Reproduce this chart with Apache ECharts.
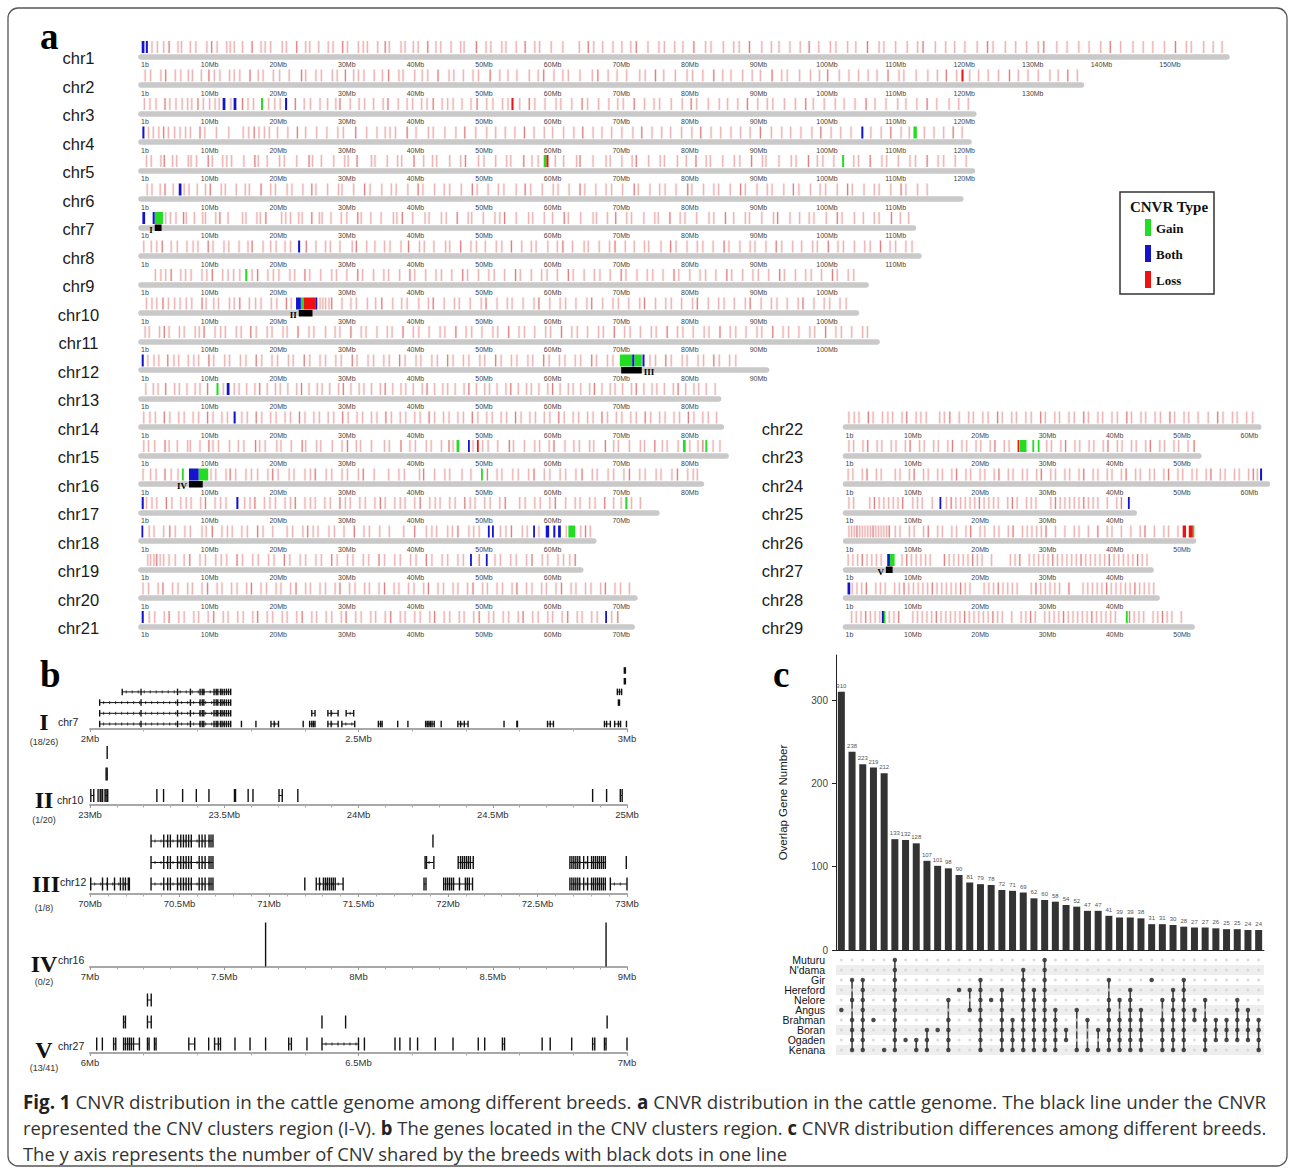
<!DOCTYPE html>
<html>
<head>
<meta charset="utf-8">
<title>CNVR distribution in the cattle genome</title>
<script src="https://cdn.jsdelivr.net/npm/echarts@6.0.0/dist/echarts.min.js"></script>
<style>
  html, body { margin: 0; padding: 0; background: #fff; }
  #main { width: 1295px; height: 1174px; }
</style>
</head>
<body>
<div id="main"></div>
<script>
// ---------- panel a : CNVR along the chromosomes (positions in Mb) ----------
const chrNames = ['chr1','chr2','chr3','chr4','chr5','chr6','chr7','chr8','chr9','chr10','chr11','chr12','chr13','chr14','chr15',
  'chr16','chr17','chr18','chr19','chr20','chr21','chr22','chr23','chr24','chr25','chr26','chr27','chr28','chr29']
const chrLengthsMb = [158.3,137.1,121.4,120.7,121.2,119.5,112.6,113.4,105.7,104.3,107.3,91.2,84.2,84.6,85.3,
  81.7,75.2,66.0,64.1,72.0,71.6,61.4,52.5,62.7,42.9,51.7,45.4,46.3,51.5]

// faint loss CNVR lines, one list per chromosome
const lossMb = [
  [1.6,2.4,3.3,4.1,5.4,5.9,7.2,8.0,9.6,10.3,11.1,12.5,13.0,13.6,14.8,16.2,17.5,18.1,18.9,20.6,21.2,22.7,24.0,24.6,25.9,27.3,28.0,29.4,30.1,31.7,32.4,33.0,34.5,35.6,36.2,37.9,38.5,39.7,40.4,41.8,43.0,43.7,45.2,46.6,47.1,48.9,50.3,51.0,52.6,53.2,54.7,56.0,57.4,58.1,59.8,61.5,63.9,65.2,66.0,67.3,68.8,70.1,71.4,72.2,73.9,75.5,76.3,77.8,79.0,80.6,82.3,83.1,84.9,86.4,87.2,88.7,90.5,91.9,93.0,94.6,96.1,97.4,98.8,100.5,101.3,103.0,104.2,105.9,107.6,108.3,110.0,111.7,113.2,114.0,115.8,117.3,118.6,120.1,121.9,123.4,124.2,126.0,127.5,129.1,130.8,131.6,133.5,135.0,136.7,138.2,139.9,141.3,142.8,144.6,146.1,147.5,149.2,150.8,152.4,153.1,154.9,156.3,157.6],
  [0.6,1.4,2.9,3.6,5.0,5.8,6.9,7.5,8.8,9.9,10.7,11.5,12.9,13.6,14.4,15.9,17.1,17.8,19.3,20.2,21.6,23.4,24.0,25.5,26.3,27.9,28.6,29.8,31.0,31.7,32.5,34.0,35.2,36.1,37.6,38.2,39.9,41.0,41.8,43.3,44.9,45.6,47.0,48.4,49.2,50.9,52.3,53.5,54.8,56.6,57.9,58.7,60.2,61.5,62.3,64.0,65.8,66.6,68.1,69.4,70.8,72.7,73.5,75.0,76.2,77.9,79.6,80.4,81.9,83.5,84.8,86.0,87.7,89.1,90.3,92.0,93.4,94.2,96.0,97.6,98.9,100.1,101.8,103.2,104.6,106.0,107.3,108.9,110.5,111.2,113.0,114.7,116.1,117.4,118.9,120.8,122.1,123.5,125.0,126.6,127.9,129.3,130.8,132.5,133.7,135.1,136.5],
  [0.5,1.3,2.2,3.5,4.2,5.1,6.0,6.8,7.4,8.3,9.1,10.0,10.8,11.4,13.1,14.8,15.6,16.4,18.6,19.5,20.3,22.5,23.8,24.7,26.1,27.2,28.4,29.0,30.5,31.8,32.6,33.9,35.3,36.0,37.5,38.8,39.6,40.9,41.7,42.6,43.9,44.7,45.5,46.8,48.1,49.0,50.4,51.3,52.7,53.5,55.2,56.6,57.4,58.9,60.5,61.2,62.8,64.3,65.1,66.7,68.2,69.5,70.3,71.9,73.4,74.8,75.6,77.3,78.9,80.2,81.0,82.7,84.3,85.5,87.0,88.4,89.9,91.3,92.1,93.8,95.4,96.9,98.0,99.6,101.2,102.5,104.1,105.7,107.0,108.6,110.3,111.5,113.1,114.6,116.0,117.8,119.2,120.6],
  [1.1,1.8,2.6,3.3,4.0,4.9,5.7,6.5,7.2,8.6,9.3,11.0,12.8,14.9,15.7,16.5,17.2,18.0,18.7,19.9,21.4,22.8,24.0,25.6,27.1,28.7,29.5,31.3,32.9,34.4,35.6,36.3,37.1,38.8,40.1,41.9,42.6,44.3,45.9,47.2,48.8,50.4,51.7,53.1,54.5,55.9,57.3,58.8,60.0,61.6,63.1,64.4,65.9,67.2,68.6,70.1,71.7,73.0,74.5,75.9,77.2,78.8,80.3,81.6,83.1,84.5,86.0,87.4,88.8,90.3,91.9,93.4,94.7,96.2,97.8,99.1,100.6,102.0,103.5,106.4,107.9,109.3,110.8,112.0,114.2,115.6,117.0,118.4,119.7],
  [0.8,1.5,2.9,3.4,4.6,5.2,6.9,7.3,8.1,9.8,10.4,11.9,12.5,13.2,15.0,16.6,17.1,18.4,20.2,20.9,22.7,24.5,25.0,26.3,28.1,29.7,30.2,31.5,33.6,34.1,35.9,37.4,38.0,39.8,41.2,42.5,43.1,45.0,46.6,47.3,49.2,50.0,51.7,53.3,53.9,55.8,57.0,57.9,60.4,61.6,63.5,64.0,65.9,67.8,68.4,70.1,71.6,72.2,74.0,75.7,76.3,78.2,79.5,80.9,82.4,83.0,84.8,86.5,87.3,89.0,90.6,91.1,93.0,94.8,95.5,97.3,98.6,99.4,101.0,103.9,104.6,106.3,108.0,108.7,110.4,112.1,112.9,114.6,116.2,117.0,118.7,120.3],
  [0.9,1.6,2.8,3.5,4.7,6.3,7.0,8.2,9.4,10.1,11.7,12.3,13.9,15.2,15.8,17.5,18.9,19.6,21.3,22.0,23.6,24.9,25.5,27.2,28.8,29.3,31.0,32.6,33.4,35.1,36.5,37.2,38.9,40.4,41.1,42.8,44.2,45.0,46.7,48.3,49.0,50.6,52.1,52.9,54.7,56.0,56.8,58.5,60.1,60.8,62.4,64.0,64.7,66.3,67.8,68.6,70.2,71.9,72.5,74.2,75.6,76.4,78.0,79.7,80.3,82.0,83.5,84.2,85.9,87.4,88.1,89.8,91.3,92.0,93.7,95.1,95.9,97.6,99.0,99.8,101.5,103.0,103.7,105.4,106.9,107.6,109.3,110.8,111.5,113.2,114.6],
  [3.6,4.3,5.1,6.2,6.6,7.8,9.0,9.4,10.9,11.5,12.7,14.8,15.3,16.9,17.4,18.2,20.5,21.1,21.8,23.0,23.5,24.9,26.0,26.4,27.7,29.2,30.0,31.6,32.1,33.5,35.0,36.8,37.3,38.1,39.6,41.4,42.0,43.8,44.5,46.1,47.7,48.2,49.9,51.6,52.3,53.0,54.7,56.5,57.1,58.8,60.0,61.7,62.3,64.1,65.9,66.4,68.0,69.2,70.8,71.5,73.3,74.9,75.4,77.1,78.6,79.3,81.0,82.8,83.5,85.2,86.4,88.1,88.7,90.5,92.2,92.8,94.6,96.0,97.4,98.1,99.9,101.5,102.2,104.0,105.3,106.9,107.6,109.4,110.7,111.9],
  [0.4,1.5,2.3,3.1,4.4,5.3,6.7,7.6,8.3,9.8,10.5,12.1,12.8,14.3,15.6,16.2,17.8,18.9,19.7,21.0,21.8,24.1,25.5,26.9,27.6,29.0,30.8,31.4,32.9,34.1,35.5,36.3,37.9,39.0,40.6,41.3,42.7,44.4,45.0,46.6,48.1,48.9,50.2,51.8,52.6,54.0,55.5,56.9,57.6,59.3,60.7,61.5,62.9,64.6,65.2,66.8,68.3,69.1,70.6,71.9,73.4,74.0,75.8,77.2,78.0,79.6,81.1,81.9,83.4,85.0,85.7,87.3,88.8,89.5,91.1,92.6,93.4,95.0,96.3,97.9,98.6,100.2,101.6,102.4,104.0,105.5,106.3,107.8,109.2,110.0,111.5,112.4],
  [2.1,2.9,3.6,4.4,5.8,6.5,7.3,8.9,9.6,10.4,11.9,12.7,13.5,14.4,16.2,17.0,18.5,19.3,20.1,21.7,22.4,23.9,24.6,26.2,27.8,28.5,30.0,31.6,32.3,33.9,35.4,36.1,37.7,39.2,39.9,41.5,43.0,43.8,45.3,46.9,47.6,49.2,50.7,51.5,53.0,54.6,55.3,56.9,58.4,59.2,60.7,62.3,63.0,64.6,66.1,66.9,68.4,70.0,70.7,72.3,73.8,74.6,76.1,77.7,78.4,80.0,81.5,82.3,83.8,85.4,86.1,87.7,89.2,90.0,91.5,93.1,93.8,95.4,96.9,97.7,99.2,100.8,101.5,103.1,103.9],
  [0.8,1.6,2.3,3.2,4.0,4.9,5.7,6.6,7.4,8.9,9.5,10.6,11.3,12.9,13.6,14.4,15.8,16.7,17.5,19.0,19.8,21.2,21.9,26.1,26.5,26.9,27.4,27.8,29.3,30.6,31.4,33.0,34.2,35.1,36.7,38.0,38.8,40.5,41.9,42.6,44.2,45.7,46.4,48.0,49.6,50.3,51.9,53.4,54.1,55.7,57.3,58.0,59.6,61.1,61.9,63.4,65.0,65.7,67.3,68.8,69.6,71.1,72.7,73.4,75.0,76.5,77.3,78.8,80.4,81.1,82.7,84.2,85.0,86.5,88.1,88.8,90.4,91.9,92.7,94.2,95.8,96.5,98.1,99.6,100.4,101.9,102.8],
  [0.6,1.2,2.7,3.4,4.1,5.6,6.3,7.9,8.5,9.2,10.8,11.6,12.3,13.9,14.6,16.0,16.8,18.4,19.1,20.7,21.3,22.9,24.5,25.2,26.9,28.3,29.0,30.6,32.1,32.8,34.4,35.9,36.6,38.2,39.7,40.5,42.0,43.6,44.3,45.9,47.4,48.2,49.7,51.3,52.0,53.6,55.1,55.9,57.4,59.0,59.7,61.3,62.8,63.6,65.1,66.7,67.4,69.0,70.5,71.3,72.8,74.4,75.1,76.7,78.2,79.0,80.5,82.1,82.8,84.4,85.9,86.7,88.2,89.8,90.5,92.1,93.6,94.4,95.9,97.5,98.2,99.8,101.3,102.1,103.6,105.2,105.9],
  [1.0,1.9,2.6,3.9,4.8,5.5,6.9,7.7,8.4,9.9,10.6,12.2,12.9,14.5,15.3,16.8,17.6,19.1,19.9,21.5,22.2,23.8,24.6,26.1,26.9,28.4,29.2,30.8,31.5,33.1,33.9,35.4,36.2,37.7,38.5,40.1,40.8,42.4,43.2,44.7,45.5,47.0,47.8,49.4,50.1,51.7,52.5,54.0,54.8,56.4,57.1,58.7,59.5,61.0,61.8,63.3,64.1,65.7,66.4,68.0,68.8,74.2,75.0,76.5,77.3,78.9,79.6,81.2,82.0,83.5,84.3,85.8,86.7],
  [0.7,1.8,2.5,3.6,4.9,5.6,6.7,7.9,8.6,9.7,12.0,13.6,14.3,15.4,16.6,17.3,18.4,19.6,20.3,21.4,22.7,23.4,24.5,25.7,26.4,27.5,28.8,29.5,30.6,31.8,32.5,33.6,34.9,35.6,36.7,37.9,38.6,39.7,41.0,41.7,42.8,44.0,44.7,45.8,47.1,47.8,48.9,50.1,50.8,51.9,53.2,53.9,55.0,56.2,56.9,58.0,59.3,60.0,61.1,62.3,63.0,64.1,65.4,66.1,67.2,68.4,69.1,70.2,71.5,72.2,73.3,74.5,75.2,76.3,77.6,78.3,79.4,80.6,81.3,82.4,83.7],
  [0.4,1.3,2.1,3.4,4.2,5.5,6.3,7.6,8.4,9.7,10.5,11.8,12.6,14.7,15.5,16.8,17.6,18.9,19.7,21.0,21.8,23.1,23.9,25.2,26.0,27.3,28.1,29.4,30.2,31.5,32.3,33.6,34.4,35.7,36.5,37.8,38.6,39.9,40.7,42.0,42.8,44.1,44.9,46.2,47.0,48.3,49.1,50.4,51.2,52.5,53.3,54.6,55.4,56.7,57.5,58.8,59.6,60.9,61.7,63.0,63.8,65.1,65.9,67.2,68.0,69.3,70.1,71.4,72.2,73.5,74.3,75.6,76.4,77.7,78.5,79.8,80.6,81.9,82.7,83.9],
  [0.4,1.1,2.0,3.5,4.1,5.3,6.8,7.2,8.6,9.9,10.5,11.3,12.9,14.2,15.0,16.7,17.3,18.1,19.8,20.4,21.9,23.5,24.0,25.6,26.2,27.9,29.3,30.1,31.4,32.0,33.6,35.5,36.2,37.9,39.2,40.0,41.6,42.3,43.8,44.9,45.5,48.4,49.8,50.6,52.0,53.7,54.3,55.9,57.4,58.1,59.5,60.2,61.8,63.1,63.9,65.4,66.0,67.7,68.9,69.6,71.2,72.8,73.4,74.9,76.0,76.7,78.3,80.0,81.2,81.9,83.4,84.4],
  [0.3,1.4,2.2,3.5,4.4,5.4,10.2,10.9,12.4,13.0,13.8,15.3,16.1,17.0,18.5,19.2,20.0,21.6,22.3,23.9,24.7,25.4,27.0,27.8,29.3,30.1,31.7,32.4,34.0,36.1,37.6,38.4,40.6,41.2,42.8,44.3,45.0,46.8,48.1,50.5,51.9,52.6,54.2,55.0,56.5,57.3,58.8,59.6,61.1,61.9,63.4,64.3,65.8,66.5,68.1,68.9,70.4,71.2,72.7,73.5,75.1,75.8,77.4,78.2,79.7,80.5,81.1],
  [0.8,1.6,2.3,3.7,4.5,5.8,6.6,7.3,8.7,9.4,10.8,11.6,12.4,15.1,15.9,16.6,18.0,18.8,19.6,21.0,21.8,22.5,23.9,24.7,25.4,26.8,27.6,29.0,29.8,30.5,31.9,32.7,34.1,34.9,35.6,37.0,37.8,38.5,39.9,40.7,42.1,42.9,43.6,45.0,45.8,47.2,48.0,48.7,50.1,50.9,52.3,53.1,55.2,56.0,57.4,58.2,59.6,60.4,61.9,63.3,64.0,65.4,66.2,67.6,68.9,70.0,71.5,72.8],
  [1.2,1.9,3.3,4.2,5.0,6.4,7.2,8.9,9.5,10.4,11.8,12.6,13.3,14.7,15.5,17.0,17.8,19.2,21.3,22.1,23.6,24.3,25.1,25.8,27.4,28.2,29.6,31.1,32.5,33.3,34.8,36.2,38.3,39.9,41.6,42.4,43.1,44.7,45.4,46.2,47.8,48.5,49.3,52.4,53.2,54.0,55.6,56.3,58.0,62.0,64.1,64.8,65.5],
  [1.0,1.4,1.9,2.3,2.8,3.3,4.1,5.0,6.3,7.1,8.6,9.4,10.9,11.7,12.5,14.0,14.8,16.3,17.1,18.6,19.4,20.9,21.7,23.2,24.0,25.5,26.3,27.8,28.6,30.1,30.9,32.4,33.2,34.7,35.5,37.0,37.8,39.3,40.1,41.6,42.4,43.9,44.7,46.2,47.0,49.3,51.6,52.4,53.9,54.7,56.2,57.0,58.5,59.3,60.8,61.6,62.5,63.3],
  [0.3,1.1,2.5,3.2,4.6,5.4,6.8,7.5,8.9,9.7,11.1,11.8,13.2,14.0,15.4,16.1,17.5,18.3,19.7,20.4,21.8,22.6,24.0,24.7,26.1,26.9,28.3,29.0,30.4,31.2,32.6,33.3,34.7,35.5,36.9,37.6,39.0,39.8,41.2,41.9,43.3,44.1,45.5,46.2,47.6,48.4,49.8,50.5,51.9,52.7,54.1,54.8,56.2,57.0,58.4,59.1,60.5,61.3,62.7,63.4,64.8,65.6,67.0,67.7,69.1,69.9,71.2],
  [1.2,2.0,3.4,4.1,5.5,6.3,7.7,8.4,9.8,10.6,12.0,12.7,14.1,14.9,16.3,17.0,18.4,19.2,20.6,21.3,22.7,23.5,24.9,25.6,27.0,27.8,29.2,29.9,31.3,32.1,33.5,34.2,35.6,36.4,37.8,38.5,39.9,40.7,42.1,42.8,44.2,45.0,46.4,47.1,48.5,49.3,50.7,51.4,52.8,53.6,55.0,55.7,57.1,57.9,59.3,60.0,61.4,62.2,63.6,64.3,65.7,66.5,68.6,69.5],
  [0.5,1.3,2.0,3.4,4.1,5.5,6.3,7.0,8.4,9.1,10.5,11.2,12.0,14.0,14.7,15.5,16.9,18.3,19.0,20.4,21.2,22.6,23.3,24.7,25.4,26.8,27.6,29.0,29.7,31.1,31.8,33.2,34.0,35.4,36.1,37.5,38.2,39.6,40.4,41.8,42.5,43.9,44.6,46.0,46.8,48.2,48.9,50.3,51.0,52.4,53.9,55.3,56.1,57.5,58.2,59.6,60.5],
  [0.5,1.2,2.6,3.3,4.7,5.4,6.8,7.5,8.9,9.6,11.0,11.7,13.1,13.8,15.2,15.9,17.3,18.0,19.4,20.1,21.5,22.2,23.6,24.3,29.9,30.6,32.0,32.7,34.1,34.8,36.2,36.9,38.3,39.0,40.4,41.1,42.5,43.2,44.6,45.3,46.7,47.4,48.8,49.5,50.9,51.8],
  [0.4,1.1,2.5,3.2,4.6,5.3,7.4,8.1,9.5,10.2,11.6,12.3,13.7,14.4,15.8,16.5,17.9,18.6,20.0,20.7,22.1,22.8,24.2,24.9,26.3,27.0,28.4,29.1,30.5,31.2,32.6,33.3,34.7,35.4,36.8,37.5,38.9,39.6,41.0,41.7,43.1,43.8,45.2,45.9,47.3,48.0,49.4,50.1,51.5,52.2,53.6,54.3,55.7,56.4,57.8,58.5,59.9,60.6,61.2],
  [0.5,1.2,3.6,4.3,5.0,5.7,6.4,7.1,7.8,8.5,10.0,10.7,11.4,12.9,15.0,15.7,16.4,17.1,17.8,18.5,19.2,19.9,20.6,21.3,22.0,22.7,24.1,24.8,25.5,26.9,27.6,28.3,30.5,31.2,31.9,32.6,33.3,34.0,34.7,35.4,36.1,36.8,37.5,38.9,40.3,41.0],
  [0.5,0.9,1.3,1.7,2.1,2.5,2.9,3.3,3.7,4.1,4.5,4.9,5.3,5.7,6.1,6.5,7.4,8.1,9.5,10.2,11.6,12.3,13.7,14.4,15.8,16.5,17.9,18.6,20.0,20.7,22.1,22.8,24.2,24.9,26.3,27.0,27.7,28.4,29.1,29.8,31.2,32.6,34.0,34.7,36.1,37.5,38.9,39.6,41.0,42.4,43.8,44.5,45.9,47.3,48.0,49.4],
  [0.4,1.1,1.8,2.5,3.2,3.9,4.6,5.3,8.4,9.1,9.8,10.5,11.2,11.9,12.6,14.7,15.4,16.1,16.8,17.5,18.2,18.9,19.6,20.3,21.7,24.5,25.2,25.9,27.3,28.0,28.7,29.4,30.1,30.8,31.5,32.2,32.9,33.6,34.3,35.0,35.7,36.4,37.1,37.8,38.5,39.2,39.9,40.6,41.3,42.0,42.7,43.4,44.1,44.8],
  [1.0,1.7,2.4,3.1,4.5,5.2,5.9,7.3,8.0,8.7,9.4,10.1,10.8,11.5,12.2,12.9,13.6,14.3,15.0,15.7,16.4,17.1,17.8,18.5,20.6,21.3,22.0,22.7,23.4,24.1,24.8,25.5,27.6,28.3,29.0,29.7,30.4,31.1,31.8,33.2,35.3,36.0,36.7,37.4,38.1,38.8,39.5,40.2,40.9,41.6,42.3,43.0,43.7,44.4,45.1,45.8],
  [0.9,1.6,2.3,3.0,3.7,4.4,5.1,6.5,7.2,7.9,10.0,10.7,11.4,12.1,12.8,13.5,14.2,14.9,15.6,16.3,17.0,17.7,18.4,19.1,19.8,20.5,21.2,21.9,22.6,23.3,24.7,26.1,26.8,27.5,28.2,29.6,30.3,31.0,31.7,32.4,33.1,33.8,34.5,35.2,35.9,36.6,37.3,38.0,38.7,39.4,40.1,42.2,42.9,43.6,44.3,45.7,46.4,47.1,47.8,48.5,49.9]
]

// solid CNVR blocks: [chromosome, start Mb, end Mb]
const gainRegions = [[3,17.5,17.8],[4,112.6,113.1],[5,58.7,59.1],[5,102.2,102.5],[7,2.0,3.2],[9,15.2,15.5],[10,23.3,23.7],
  [12,69.8,71.6],[12,71.9,73.0],[13,11.0,11.3],[15,46.0,46.4],[15,79.0,79.4],[15,82.3,82.5],[16,6.0,6.2],[16,8.4,9.8],
  [16,49.6,49.8],[17,70.6,70.9],[18,62.3,63.3],[23,25.9,26.9],[23,27.8,28.0],[23,28.6,28.8],[26,51.6,51.8],[27,6.6,7.3],
  [29,5.7,5.9],[29,41.7,41.9]]
const bothRegions = [[1,0.1,0.5],[1,0.7,1.0],[3,11.9,12.3],[3,13.5,13.9],[3,21.0,21.3],[4,0.2,0.5],[4,105.0,105.3],[6,5.5,5.9],
  [7,0.2,0.6],[7,1.7,2.0],[8,22.9,23.2],[10,22.6,23.3],[10,25.4,25.7],[12,0.1,0.4],[12,71.6,71.9],[12,73.1,73.4],[13,12.5,12.9],
  [14,13.5,13.8],[15,47.7,47.9],[16,7.0,8.4],[17,0.1,0.4],[17,13.9,14.2],[18,0.1,0.3],[18,50.6,50.8],[18,51.2,51.4],
  [18,57.2,57.4],[18,59.0,59.5],[18,60.1,60.4],[18,60.8,61.2],[19,48.0,48.2],[19,50.3,50.5],[21,0.1,0.4],[21,67.7,67.9],
  [24,61.6,61.9],[25,14.0,14.2],[25,42.0,42.2],[27,6.2,6.6],[28,0.3,0.7],[29,5.4,5.7]]
const lossRegions = [[2,119.6,119.9],[3,54.0,54.3],[5,59.1,59.4],[10,23.7,25.4],[15,49.0,49.2],[23,25.6,25.8],[26,50.1,50.6],[26,51.0,51.6]]
const clusterRegions = [[7,2,3,'I'],[10,23,25,'II'],[12,70,73,'III'],[16,7,9,'IV'],[27,6,7,'V']]

// ---------- panel b : genes in the cluster regions ----------
// gene: [lane, start Mb, end Mb, ...inner exon positions]
const trackNames = ['I','II','III','IV','V']
const trackChrs = ['chr7','chr10','chr12','chr16','chr27']
const trackRatios = ['(18/26)','(1/20)','(1/8)','(0/2)','(13/41)']
const trackRanges = [[2,3],[23,25],[70,73],[7,9],[6,7]]
const trackIGenes = [
  [0,2.018,2.262,2.095,2.163,2.187,2.205,2.209,2.212,2.231,2.235,2.238,2.243,2.246,2.250,2.254,2.258],
  [1,2.018,2.262,2.095,2.163,2.187,2.205,2.209,2.212,2.231,2.235,2.238,2.243,2.246,2.250,2.254,2.258],
  [2,2.018,2.262,2.095,2.163,2.187,2.205,2.209,2.212,2.231,2.235,2.238,2.243,2.246,2.250,2.254,2.258],
  [3,2.060,2.262,2.095,2.163,2.187,2.205,2.209,2.212,2.231,2.235,2.238,2.243,2.246,2.250,2.254,2.258],
  [0,2.282,2.282],[0,2.309,2.309],[0,2.337,2.351,2.343],[0,2.397,2.397],[0,2.409,2.419,2.413,2.416],[0,2.443,2.462,2.449],
  [0,2.469,2.493],[0,2.537,2.544,2.541],[0,2.573,2.573],[0,2.592,2.592],[0,2.625,2.641,2.628,2.631,2.634,2.637],[0,2.654,2.654],
  [0,2.685,2.704,2.690,2.697],[0,2.771,2.771],[0,2.795,2.796],[0,2.852,2.863,2.857],[0,2.958,2.969,2.962],[0,2.977,2.988,2.984],
  [0,2.999,2.999],[1,2.413,2.419],[1,2.443,2.462,2.449],[1,2.477,2.491],[2,2.984,2.986],[3,2.982,2.990,2.986],[4,2.995,2.997],[5,2.995,2.997]
]
const trackIIGenes = [
  [0,23.003,23.014],[0,23.030,23.030],[0,23.038,23.041],[0,23.047,23.047],[0,23.056,23.066,23.060],[0,23.249,23.249],
  [0,23.274,23.274],[0,23.345,23.345],[0,23.396,23.396],[0,23.443,23.443],[0,23.538,23.542],[0,23.589,23.589],[0,23.607,23.607],
  [0,23.704,23.716],[0,23.774,23.774],[0,24.872,24.872],[0,24.924,24.924],[0,24.975,24.982],[1,23.060,23.064],[2,23.064,23.064]
]
const trackIIIGenes = [
  [0,70.004,70.220,70.070,70.097,70.137,70.170,70.185,70.198,70.214],
  [0,70.341,70.687,70.412,70.434,70.449,70.489,70.507,70.522,70.537,70.551,70.566,70.610,70.626,70.643,70.665,70.676],
  [1,70.341,70.687,70.412,70.434,70.449,70.489,70.507,70.522,70.537,70.551,70.566,70.610,70.626,70.643,70.665,70.676],
  [2,70.341,70.687,70.412,70.434,70.449,70.489,70.507,70.522,70.537,70.551,70.566,70.610,70.626,70.643,70.665,70.676],
  [0,71.200,71.200],[0,71.264,71.414,71.282,71.304,71.315,71.326,71.337,71.348,71.359,71.370],[0,71.866,71.877],
  [0,71.976,72.137,71.987,71.998,72.009,72.020,72.031,72.064,72.097,72.108,72.119],
  [0,72.681,72.879,72.692,72.703,72.714,72.725,72.736,72.758,72.780,72.802,72.813,72.824,72.835,72.846,72.857,72.868],
  [0,72.907,73.000],[1,71.872,71.921,71.880],[1,72.057,72.141,72.070,72.081,72.092,72.103,72.114,72.125],
  [1,72.681,72.879,72.692,72.703,72.714,72.725,72.736,72.758,72.780,72.802,72.813,72.824,72.835,72.846,72.857,72.868],
  [1,72.996,72.996],[2,71.916,71.916]
]
const trackIVGenes = [[0,7.654,7.654],[0,8.922,8.922]]
const trackVGenes = [
  [0,6.0125,6.0125],[0,6.023,6.023],[0,6.044,6.048],[0,6.0625,6.092,6.066,6.070,6.0735,6.077,6.081],[0,6.107,6.110],[0,6.120,6.123],
  [0,6.184,6.195],[0,6.221,6.221],[0,6.232,6.243,6.239],[0,6.270,6.270],[0,6.298,6.298],[0,6.327,6.327],[0,6.370,6.375],
  [0,6.404,6.404],[0,6.432,6.500],[0,6.511,6.511],[0,6.568,6.568],[0,6.577,6.577],[0,6.596,6.596],[0,6.610,6.610],[0,6.643,6.643],
  [0,6.676,6.676],[0,6.723,6.723],[0,6.735,6.735],[0,6.768,6.772],[0,6.842,6.842],[0,6.857,6.857],[0,6.897,6.897],[0,6.936,6.940],
  [0,6.958,6.961],[0,7.000,7.000],[1,6.0625,6.066],[1,6.107,6.114],[1,6.432,6.432],[1,6.476,6.476],[1,6.963,6.963],[2,6.107,6.114]
]
const trackGenes = [trackIGenes, trackIIGenes, trackIIIGenes, trackIVGenes, trackVGenes]

// ---------- panel c : breed intersections ----------
const breeds = ['Muturu', "N'dama", 'Gir', 'Hereford', 'Nelore', 'Angus', 'Brahman', 'Boran', 'Ogaden', 'Kenana']
const upsetValues = [310,238,223,219,212,133,132,128,107,101,98,90,81,79,78,72,71,69,62,60,58,54,52,47,47,41,39,39,38,31,31,30,28,27,27,26,25,25,24,24]
const upsetSets = [
  [5],[2,4,6,7,8,9],[2,3,4,5,6,7,8,9],[6],[9],[0,1,2,3,4,5,6,7,8,9],[8],[8,9],[7,8,9],[7],
  [4,6,7,8,9],[3],[3,5],[2,3,4,5,6,7,8,9],[4],[3,4,5,6,7,8,9],[6,7,8,9],[1,2,3,4,5,6,7,8,9],[3,4,5,6,7,8,9],[0,1,2,3,4,5,6,7,8,9],
  [5,6,7,8,9],[7,8],[5,9],[6,9],[7,9],[2,4,5,6,7,8,9],[4,6,7,8,9],[3,4,5,6,7,8,9],[5,6,7,8,9],[2],
  [4,6,7,8,9],[3,4,5,6,7,8,9],[2,3,4,5,6,7,8,9],[5,6],[4,6,7,8,9],[6,7,8],[6,7,8],[4,5,6,7,8],[5,6,7,8],[6,7,8,9]
]

const captionLines = [
  '{b|Fig. 1} CNVR distribution in the cattle genome among different breeds. {b|a} CNVR distribution in the cattle genome. The black line under the CNVR',
  'represented the CNV clusters region (I-V). {b|b} The genes located in the CNV clusters region. {b|c} CNVR distribution differences among different breeds.',
  'The y axis represents the number of CNV shared by the breeds with black dots in one line'
]

// ------------------------------------------------------------------
const chart = echarts.init(document.getElementById('main'), null, { renderer: 'svg' })
const grid = [], xAxis = [], yAxis = [], series = [], graphic = []
const serif = "'Liberation Serif', 'DejaVu Serif', serif"
const sans = "'Liberation Sans', Arial, sans-serif"
const MARK_COLORS = ['#cc3a3a', '#22dd22', '#1414cc', '#ee1111']

const text = (x, y, str, size, opts) => graphic.push({
  type: 'text', x, y, silent: true,
  style: Object.assign({ text: str, fontSize: size, fontFamily: sans, fill: '#222',
    align: 'left', textAlign: 'left', verticalAlign: 'middle', textVerticalAlign: 'middle' }, opts || {})
})

// panel a
chrNames.forEach((name, i) => {
  const right = i >= 21
  const row = right ? i - 8 : i
  const left = right ? 845.5 : 141
  const ppm = right ? 6.73 : 6.86
  const top = 41 + row * 28.5
  const len = chrLengthsMb[i]
  const gi = grid.length
  grid.push({ left, top, width: len * ppm, height: 15.5 })
  xAxis.push({
    gridIndex: gi, type: 'value', min: 0, max: len, interval: 10,
    axisLine: { lineStyle: { color: '#c9c9c9', width: 5.5 } },
    axisTick: { show: false }, splitLine: { show: false },
    axisLabel: { fontSize: 7, color: '#444', margin: 4.5, fontFamily: sans, alignMinLabel: 'left',
      formatter: v => v === 0 ? '1b' : (Math.abs(v % 10) < 1e-6 ? v + 'Mb' : '') }
  })
  yAxis.push({ gridIndex: gi, type: 'value', min: 0, max: 15.5, show: false })
  const items = lossMb[i].map(p => [p, p, 0])
  gainRegions.filter(r => r[0] === i + 1).forEach(r => items.push([r[1], r[2], 1]))
  bothRegions.filter(r => r[0] === i + 1).forEach(r => items.push([r[1], r[2], 2]))
  lossRegions.filter(r => r[0] === i + 1).forEach(r => items.push([r[1], r[2], 3]))
  series.push({
    type: 'custom', xAxisIndex: gi, yAxisIndex: gi, silent: true, data: items,
    renderItem: (params, api) => {
      const kind = api.value(2)
      const a = api.coord([api.value(0), 15.5])
      const b = api.coord([api.value(1), 3.5])
      const minW = kind === 0 ? 2.8 : 1.8
      let x = a[0], w = b[0] - a[0]
      if (w < minW) { x -= (minW - w) / 2; w = minW }
      if (kind === 0) {
        // a pale band with a thin core line, like the overlapping CNVR strokes
        const dark = params.dataIndex % 6 === 3
        return { type: 'group', children: [
          { type: 'rect', shape: { x, y: a[1], width: w, height: b[1] - a[1] }, style: { fill: MARK_COLORS[0], opacity: 0.1 } },
          { type: 'rect', shape: { x: x + w / 2 - 0.6, y: a[1], width: 1.2, height: b[1] - a[1] }, style: { fill: MARK_COLORS[0], opacity: dark ? 0.6 : 0.3 } }
        ] }
      }
      return { type: 'rect', shape: { x, y: a[1], width: w, height: b[1] - a[1] }, style: { fill: MARK_COLORS[kind] } }
    }
  })
  const clusters = clusterRegions.filter(c => c[0] === i + 1)
  if (clusters.length) {
    series.push({
      type: 'custom', xAxisIndex: gi, yAxisIndex: gi, silent: true, z: 5,
      data: clusters.map(c => [c[1], c[2]]),
      renderItem: (params, api) => {
        const c = clusters[params.dataIndex]
        const a = api.coord([api.value(0), 0])
        const b = api.coord([api.value(1), 0])
        const onRight = c[3] === 'III'
        return {
          type: 'group', children: [
            { type: 'rect', shape: { x: a[0], y: a[1] - 3, width: b[0] - a[0], height: 6.5 }, style: { fill: '#000' } },
            { type: 'text', style: { text: c[3], x: onRight ? b[0] + 2 : a[0] - 2, y: a[1] + 2,
              align: onRight ? 'left' : 'right', verticalAlign: 'middle', fontSize: 9, fontWeight: 'bold', fontFamily: serif, fill: '#000' } }
          ]
        }
      }
    })
  }
  text(right ? 782.5 : 78.5, 58 + row * 28.5, name, 16.5, { align: 'center', textAlign: 'center', fill: '#1a1a1a' })
})

// legend of panel a
graphic.push({ type: 'rect', shape: { x: 1120, y: 192, width: 94, height: 102 }, style: { fill: '#fff', stroke: '#333', lineWidth: 1.5 }, silent: true })
text(1169, 207, 'CNVR Type', 15, { align: 'center', textAlign: 'center', fontWeight: 'bold', fontFamily: serif, fill: '#111' })
;[['Gain', MARK_COLORS[1]], ['Both', MARK_COLORS[2]], ['Loss', MARK_COLORS[3]]].forEach((it, k) => {
  graphic.push({ type: 'rect', shape: { x: 1145, y: 219 + k * 26, width: 6, height: 17 }, style: { fill: it[1] }, silent: true })
  text(1156, 228 + k * 26, it[0], 13, { fontWeight: 'bold', fontFamily: serif, fill: '#111' })
})

// panel b
const trackAxisY = [729, 805, 894, 967, 1053]
const trackLaneBase = [5, 9.5, 10, 22.5, 9]
const trackLaneGap = [10.7, 21.5, 21.5, 0, 22]
const trackTickH = [6.5, 13, 13, 44, 13]
const numeralY = [722, 800, 884, 964, 1050]
const chrLabelX = [58, 57, 60, 58, 58]
const chrLabelDy = [0, 0, -2, -4, -4]
const ratioDy = [20, 20, 24, 18, 18]
trackGenes.forEach((genes, t) => {
  const gi = grid.length
  const axisY = trackAxisY[t]
  grid.push({ left: 90, width: 537, top: axisY - 70, height: 70 })
  xAxis.push({
    gridIndex: gi, type: 'value', min: trackRanges[t][0], max: trackRanges[t][1], interval: 0.5,
    axisLine: { lineStyle: { color: '#a8a8a8', width: 2 } },
    axisTick: { show: true, length: 3, lineStyle: { color: '#999' } },
    minorTick: { show: true, splitNumber: 5, length: 2.5, lineStyle: { color: '#aaa' } },
    splitLine: { show: false },
    axisLabel: { fontSize: 9.5, color: '#333', margin: 4, fontFamily: sans, formatter: v => parseFloat(v.toFixed(2)) + 'Mb' }
  })
  yAxis.push({ gridIndex: gi, type: 'value', min: 0, max: 70, show: false })
  const laneY = lane => trackLaneBase[t] + lane * trackLaneGap[t]
  const lines = genes.filter(g => g[2] > g[1]).map(g => [g[1], g[2], g[0]])
  const ticks = []
  genes.forEach(g => {
    const ps = [g[1]].concat(g.slice(3))
    if (g[2] > g[1]) ps.push(g[2])
    ps.forEach(p => ticks.push([p, g[0]]))
  })
  series.push({
    type: 'custom', xAxisIndex: gi, yAxisIndex: gi, silent: true, data: lines,
    renderItem: (params, api) => {
      const a = api.coord([api.value(0), laneY(api.value(2))])
      const b = api.coord([api.value(1), laneY(api.value(2))])
      const children = [{ type: 'line', shape: { x1: a[0], y1: a[1], x2: b[0], y2: b[1] }, style: { stroke: '#111', lineWidth: 1 } }]
      for (let x = a[0] + 4; x < b[0] - 2; x += 6) {
        children.push({ type: 'line', shape: { x1: x, y1: a[1] - 1.5, x2: x, y2: a[1] + 1.5 }, style: { stroke: '#111', lineWidth: 0.8 } })
      }
      return { type: 'group', children }
    }
  })
  series.push({
    type: 'custom', xAxisIndex: gi, yAxisIndex: gi, silent: true, data: ticks,
    renderItem: (params, api) => {
      const p = api.coord([api.value(0), laneY(api.value(1))])
      const h = trackTickH[t]
      return { type: 'rect', shape: { x: p[0] - 0.7, y: p[1] - h / 2, width: 1.4, height: h }, style: { fill: '#111' } }
    }
  })
  text(44 + (t === 2 ? 2 : 0), numeralY[t], trackNames[t], 24, { align: 'center', textAlign: 'center', fontWeight: 'bold', fontFamily: serif, fill: '#111' })
  text(chrLabelX[t], numeralY[t] + chrLabelDy[t], trackChrs[t], 10.5, { fill: '#222' })
  text(44, numeralY[t] + ratioDy[t], trackRatios[t], 9, { align: 'center', textAlign: 'center', fill: '#333' })
})

// panel c
const cats = upsetValues.map((v, i) => String(i + 1))
const bg = grid.length
grid.push({ left: 836, top: 655, width: 428, height: 295 })
xAxis.push({ gridIndex: bg, type: 'category', data: cats, axisLine: { lineStyle: { color: '#222', width: 1 } }, axisTick: { show: false }, axisLabel: { show: false } })
yAxis.push({
  gridIndex: bg, type: 'value', min: 0, max: 354, interval: 100,
  name: 'Overlap Gene Number', nameLocation: 'middle', nameGap: 47,
  nameTextStyle: { fontSize: 11.5, color: '#222', fontFamily: sans },
  axisLine: { show: true, lineStyle: { color: '#222' } },
  axisTick: { show: true, length: 4, customValues: [0, 100, 200, 300], lineStyle: { color: '#222' } },
  axisLabel: { fontSize: 10, color: '#444', fontFamily: sans, customValues: [0, 100, 200, 300], formatter: v => (v % 100 === 0 ? String(v) : '') },
  splitLine: { show: false }
})
series.push({
  type: 'bar', xAxisIndex: bg, yAxisIndex: bg, data: upsetValues, barWidth: 7, silent: true,
  itemStyle: { color: '#333' },
  label: { show: true, position: 'top', fontSize: 6, color: '#555', distance: 3, fontFamily: sans }
})
const mg = grid.length
grid.push({ left: 836, top: 955, width: 428, height: 100 })
xAxis.push({ gridIndex: mg, type: 'category', data: cats, show: false })
yAxis.push({
  gridIndex: mg, type: 'category', data: breeds, inverse: true,
  axisLine: { show: false }, axisTick: { show: false },
  axisLabel: { fontSize: 10.5, color: '#111', margin: 11, interval: 0, fontFamily: sans },
  splitArea: { show: true, interval: 0, areaStyle: { color: ['#ffffff', '#eeeeee'] } }
})
const allDots = []
cats.forEach((c, ci) => breeds.forEach((b, r) => allDots.push([ci, r])))
series.push({ type: 'scatter', xAxisIndex: mg, yAxisIndex: mg, data: allDots, symbolSize: 3, itemStyle: { color: '#d2d2d2' }, silent: true })
series.push({
  type: 'custom', xAxisIndex: mg, yAxisIndex: mg, silent: true,
  data: upsetSets.map((s, ci) => [ci, Math.min(...s), Math.max(...s)]).filter(d => d[2] > d[1]),
  renderItem: (params, api) => {
    const a = api.coord([api.value(0), api.value(1)])
    const b = api.coord([api.value(0), api.value(2)])
    return { type: 'line', shape: { x1: a[0], y1: a[1], x2: b[0], y2: b[1] }, style: { stroke: '#444', lineWidth: 1.6 } }
  }
})
const activeDots = []
upsetSets.forEach((s, ci) => s.forEach(r => activeDots.push([ci, r])))
series.push({ type: 'scatter', xAxisIndex: mg, yAxisIndex: mg, data: activeDots, symbolSize: 4.5, itemStyle: { color: '#222' }, silent: true, z: 4 })

// panel letters
text(40, 55, 'a', 37, { verticalAlign: 'bottom', textVerticalAlign: 'bottom', fontWeight: 'bold', fontFamily: serif, fill: '#000' })
text(40, 693, 'b', 37, { verticalAlign: 'bottom', textVerticalAlign: 'bottom', fontWeight: 'bold', fontFamily: serif, fill: '#000' })
text(773, 693, 'c', 37, { verticalAlign: 'bottom', textVerticalAlign: 'bottom', fontWeight: 'bold', fontFamily: serif, fill: '#000' })

// caption: the two justified lines fill the width, the last one keeps their squeeze
const capFont = "'Open Sans', 'DejaVu Sans', sans-serif"
const capSize = 19
const ctx = document.createElement('canvas').getContext('2d')
const lineWidth = line => {
  let w = 0
  line.split(/(\{b\|[^}]*\})/).forEach(seg => {
    if (!seg) return
    const bold = seg.startsWith('{b|')
    ctx.font = (bold ? 'bold ' : '') + capSize + "px 'Open Sans', 'DejaVu Sans', sans-serif"
    w += ctx.measureText(bold ? seg.slice(3, -1) : seg).width
  })
  return w
}
const s1 = 1244 / lineWidth(captionLines[0])
const s2 = 1244 / lineWidth(captionLines[1])
const capScales = [s1, s2, Math.min(s1, s2)]
captionLines.forEach((line, k) => {
  graphic.push({
    type: 'text', x: 23, y: 1102 + k * 25.5, scaleX: capScales[k], silent: true,
    style: { text: line, x: 0, y: 0, fontSize: capSize, fontFamily: capFont, fill: '#333', verticalAlign: 'middle', textVerticalAlign: 'middle',
      rich: { b: { fontSize: capSize, fontFamily: capFont, fontWeight: 'bold', fill: '#222', color: '#222' } } }
  })
})

// outer frame
graphic.push({ type: 'rect', shape: { x: 8, y: 8, width: 1279, height: 1158, r: 10 }, style: { fill: 'none', stroke: '#555', lineWidth: 1.3 }, silent: true })

chart.setOption({ animation: false, backgroundColor: '#fff', grid, xAxis, yAxis, series, graphic })
</script>
</body>
</html>
